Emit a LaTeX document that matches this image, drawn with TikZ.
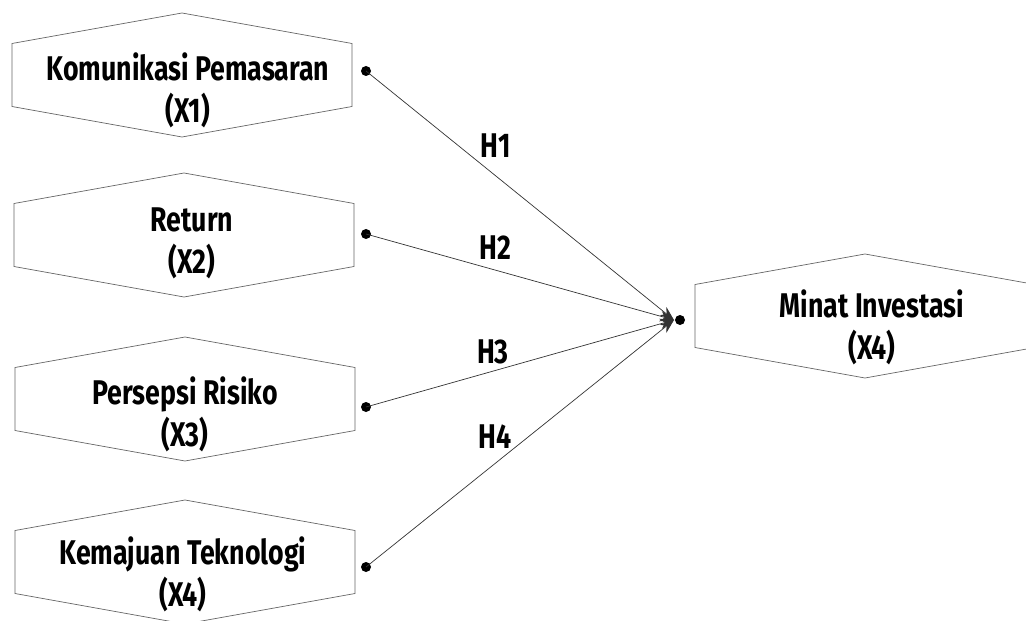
\documentclass[tikz,border=0pt]{standalone}
\usepackage{fontspec}
\setmainfont{Fira Sans}[FakeStretch=0.78]
\usetikzlibrary{arrows.meta}
\begin{document}
\begin{tikzpicture}[x=0.02cm,y=-0.02cm,
		hexline/.style={draw=gray!80!black,line width=0.4pt},
		lbl/.style={align=center,font=\fontsize{19.5}{24}\selectfont\bfseries,inner sep=0pt},
		hlbl/.style={font=\fontsize{19.5}{24}\selectfont\bfseries,inner sep=0pt},
		conn/.style={draw=black!80,line width=0.4pt,-{Stealth[length=8pt,width=6pt]}}]
	\useasboundingbox (0,0) rectangle (1026,621);
	\clip (0,0) rectangle (1026,621);
	% Kotak variabel
	\draw[hexline] (12,43.5) -- (182,13) -- (352,43.5) -- (352,106.5) -- (182,137) -- (12,106.5) -- cycle;
	\draw[hexline] (14,203.5) -- (184,173) -- (354,203.5) -- (354,266.5) -- (184,297) -- (14,266.5) -- cycle;
	\draw[hexline] (15,367.5) -- (185,337) -- (355,367.5) -- (355,430.5) -- (185,461) -- (15,430.5) -- cycle;
	\draw[hexline] (15,530.5) -- (185,500) -- (355,530.5) -- (355,593.5) -- (185,624) -- (15,593.5) -- cycle;
	\draw[hexline] (695,284.5) -- (865,254) -- (1035,284.5) -- (1035,347.5) -- (865,378) -- (695,347.5) -- cycle;
	\node[lbl] (x1) at (188,90) {Komunikasi Pemasaran\\(X1)};
	\node[lbl] (x2) at (192,243) {Return\\(X2)};
	\node[lbl] (x3) at (185,414) {Persepsi Risiko\\(X3)};
	\node[lbl] (x4) at (183,574) {Kemajuan Teknologi\\(X4)};
	\node[lbl] (y) at (872,327) {Minat Investasi\\(X4)};
	% Titik
	\coordinate (s1) at (366,71);
	\coordinate (s2) at (366,234);
	\coordinate (s3) at (366,407);
	\coordinate (s4) at (366,567);
	\coordinate (t) at (680,320);
	\coordinate (tin) at (674,320);
	\fill (s1) circle [radius=5];
	\fill (s2) circle [radius=5];
	\fill (s3) circle [radius=5];
	\fill (s4) circle [radius=5];
	\fill (t) circle [radius=5];
	% Hipotesis
	\draw[conn] (s1) -- (tin);
	\draw[conn] (s2) -- (tin);
	\draw[conn] (s3) -- (tin);
	\draw[conn] (s4) -- (tin);
	\node[hlbl] (h1) at (496,146) {H1};
	\node[hlbl] (h2) at (495,248) {H2};
	\node[hlbl] (h3) at (493,352) {H3};
	\node[hlbl] (h4) at (495,437) {H4};
\end{tikzpicture}
\end{document}
